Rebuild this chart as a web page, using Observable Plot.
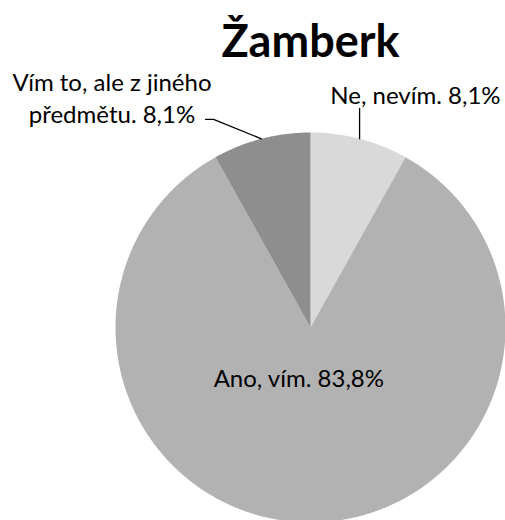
<!DOCTYPE html>
<html><head><meta charset="utf-8">
<script src="https://cdn.jsdelivr.net/npm/d3@7"></script>
<script src="https://cdn.jsdelivr.net/npm/@observablehq/plot@0.6"></script>
<style>body{margin:0;background:#fff}</style>
</head><body><div id="chart"></div>
<script>
const title = "Žamberk";
const categories = ["Ne, nevím.", "Ano, vím.", "Vím to, ale z jiného předmětu."];
const values = [8.1, 83.8, 8.1];
const valueLabels = ["8,1%", "83,8%", "8,1%"];
const colors = ["#d9d9d9", "#b2b2b2", "#8e8e8e"];

const rows = categories.map((c, i) => ({category: c, value: values[i], label: valueLabels[i]}));
const arcs = d3.pie().sort(null).value(d => d.value)(rows);

// slice outlines in unit-circle coordinates
const pts = [];
arcs.forEach(a => {
  const n = Math.max(4, Math.ceil((a.endAngle - a.startAngle) / 0.005));
  pts.push({k: a.data.category, x: 0, y: 0});
  for (let i = 0; i <= n; i++) {
    const t = a.startAngle + (a.endAngle - a.startAngle) * i / n;
    pts.push({k: a.data.category, x: Math.sin(t), y: Math.cos(t)});
  }
  pts.push({k: a.data.category, x: 0, y: 0});
});
const mid = a => (a.startAngle + a.endAngle) / 2;
const edge = a => ({x: Math.sin(mid(a)), y: Math.cos(mid(a))});

// leader lines
const eNe = edge(arcs[0]), eV = edge(arcs[2]);
const leaders = [
  {k: "ne", x: eNe.x, y: eNe.y}, {k: "ne", x: eNe.x, y: 1.123},
  {k: "v", x: eV.x, y: eV.y}, {k: "v", x: -0.497, y: 1.067}, {k: "v", x: -0.538, y: 1.067}
];

const texts = [
  {x: 0.538, y: 1.195, t: `${arcs[0].data.category} ${arcs[0].data.label}`},
  {x: -1.018, y: 1.182, t: `Vím to, ale z jiného\npředmětu. ${arcs[2].data.label}`},
  {x: -0.06, y: -0.256, t: `${arcs[1].data.category} ${arcs[1].data.label}`}
];

const chart = Plot.plot({
  width: 505,
  height: 520,
  margin: 0,
  x: {domain: [-1, 1], range: [115, 505], axis: null},
  y: {domain: [-1, 1], range: [522, 132], axis: null},
  color: {domain: categories, range: colors},
  style: {fontFamily: "Lato, sans-serif", background: "#fff"},
  marks: [
    Plot.line(pts, {x: "x", y: "y", z: "k", fill: "k", stroke: null}),
    Plot.line(leaders, {x: "x", y: "y", z: "k", stroke: "#000", strokeWidth: 1.3}),
    Plot.text(texts, {x: "x", y: "y", text: "t", fontSize: 24, lineHeight: 1.3, fill: "#000"}),
    Plot.text([title], {x: 0, y: 1.46, text: d => d, fontSize: 45, fontWeight: "bold", fill: "#000"})
  ]
});
document.getElementById("chart").append(chart);
</script>
</body></html>
